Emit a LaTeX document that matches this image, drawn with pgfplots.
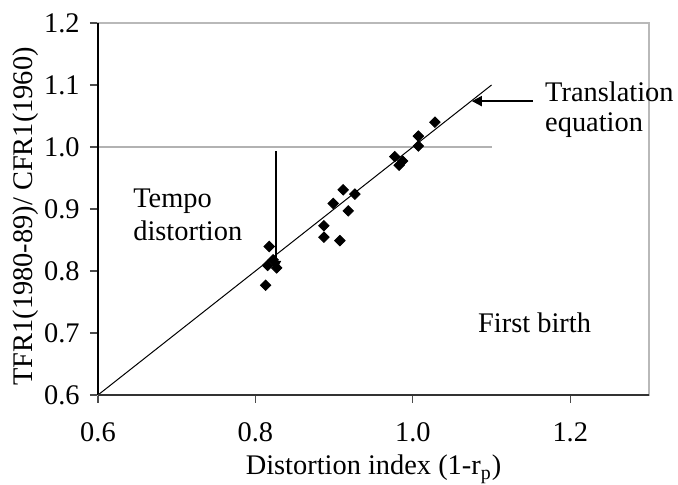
\documentclass[border=0pt]{standalone}
\usepackage{pgfplots}
\pgfplotsset{compat=1.18}
\usepackage{fontspec}
\setmainfont{Liberation Serif}
\usetikzlibrary{arrows.meta}
\pgfplotstableread{
x y
1.028 1.040
1.007 1.0176
1.007 1.0015
0.977 0.9845
0.987 0.9775
0.9826 0.9706
0.9115 0.931
0.9263 0.924
0.8988 0.909
0.9179 0.897
0.887 0.873
0.887 0.8546
0.9073 0.849
0.8175 0.8395
0.8225 0.818
0.8155 0.809
0.827 0.805
0.813 0.777
}\pts
\newcommand{\fs}{\fontsize{14.2}{17}\selectfont}
\begin{document}
\begin{tikzpicture}
\begin{axis}[name=ax, scale only axis, width=275.5pt, height=186pt,
  xmin=0.6, xmax=1.3, ymin=0.6, ymax=1.2,
  xtick={0.6,0.8,1.0,1.2}, ytick={0.6,0.7,0.8,0.9,1.0,1.1,1.2},
  xtick pos=left, ytick pos=left, tick align=outside,
  major tick length=4pt,
  tick style={gray!60!black, line width=0.6pt},
  axis line style={gray!55, line width=0.6pt},
  /pgf/number format/assume math mode=true,
  xticklabel style={font=\fs, inner sep=4.5pt, yshift=-5pt, /pgf/number format/.cd, fixed, fixed zerofill, precision=1},
  yticklabel style={font=\fs, inner sep=3pt, xshift=-2pt, /pgf/number format/.cd, fixed, fixed zerofill, precision=1},
  clip=false,
  xlabel={Distortion index (1-r\textsubscript{p})},
  ylabel={TFR1(1980-89)/ CFR1(1960)},
  xlabel style={font=\fs, at={(axis description cs:0.5,0)}, anchor=base, yshift=-40pt},
  ylabel style={font=\fs, at={(axis description cs:-0.132,0.48)}, anchor=center},
]
\addplot[gray!60, line width=0.7pt] coordinates {(0.6,1.0) (1.1,1.0)};
\addplot[black, line width=0.5pt] coordinates {(0.6,0.6) (1.1,1.1)};
\addplot[only marks, mark=square*, mark size=1.85pt, mark options={rotate=45, fill=black, draw=black}] table[x=x,y=y] {\pts};
\draw[black, line width=1pt, -{Triangle[length=5pt,width=5pt]}] (axis cs:1.152,1.074) -- (axis cs:1.075,1.074);
\draw[black, line width=1pt, -{Triangle[length=5pt,width=5pt]}] (axis cs:0.826,0.993) -- (axis cs:0.826,0.800);
\node[font=\fs, anchor=base west, inner sep=0pt] at (axis cs:1.1676,1.0733) {Translation};
\node[font=\fs, anchor=base west, inner sep=0pt] at (axis cs:1.1676,1.0256) {equation};
\node[font=\fs, anchor=base west, inner sep=0pt] at (axis cs:0.6444,0.9032) {Tempo};
\node[font=\fs, anchor=base west, inner sep=0pt] at (axis cs:0.6444,0.8486) {distortion};
\node[font=\fs, anchor=base west, inner sep=0pt] at (axis cs:1.0825,0.701) {First birth};
\draw[black, line width=0.7pt] (rel axis cs:0,0) -- (rel axis cs:0,1);
\draw[gray!40!black, line width=0.7pt] (rel axis cs:0,0) -- (rel axis cs:1,0);
\end{axis}
\pgfresetboundingbox
\path[use as bounding box] ([shift={(-49pt,-45pt)}]ax.south west) rectangle ([shift={(14.5pt,11.5pt)}]ax.north east);
\end{tikzpicture}
\end{document}
